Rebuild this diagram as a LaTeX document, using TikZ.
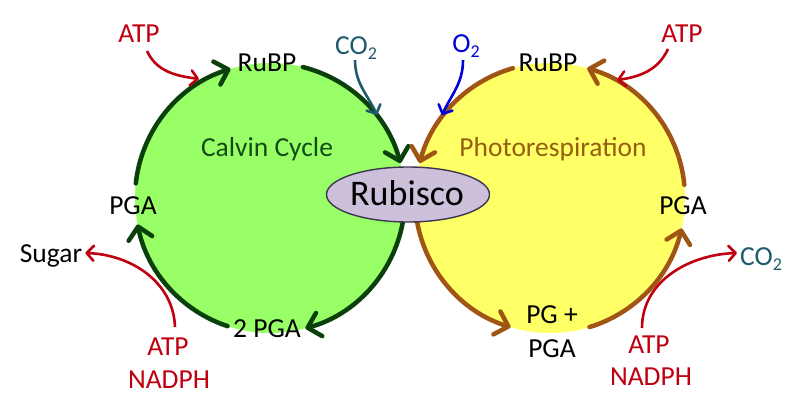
\documentclass[tikz,border=0pt]{standalone}
\usepackage{fontspec}
\setmainfont{Carlito}
\usetikzlibrary{arrows.meta,calc,shapes.geometric}
\definecolor{gfill}{RGB}{153,255,102}
\definecolor{yfill}{RGB}{255,255,102}
\definecolor{gline}{RGB}{10,64,10}
\definecolor{gtext}{RGB}{20,75,20}
\definecolor{bline}{RGB}{160,85,20}
\definecolor{btext}{RGB}{150,95,15}
\definecolor{rbfill}{RGB}{204,192,218}
\definecolor{rbline}{RGB}{60,55,80}
\definecolor{rred}{RGB}{192,0,16}
\definecolor{cteal}{RGB}{31,90,110}
\definecolor{oblue}{RGB}{0,0,220}
\newcommand{\subtwo}{\raisebox{-5pt}{\fontsize{18}{18}\selectfont 2}}
\begin{document}
\begin{tikzpicture}[x=1pt,y=1pt,
  lbl/.style={inner sep=0pt, anchor=base, font=\fontsize{27.5}{32}\selectfont},
  garc/.style={draw=gline, line width=4.5pt, line cap=round, -{Straight Barb[length=12pt,width=24pt,round]}},
  barc/.style={draw=bline, line width=4.5pt, line cap=round, -{Straight Barb[length=12pt,width=24pt,round]}},
  rarr/.style={draw=rred, line width=2.6pt, -{Straight Barb[length=7pt,width=15pt,round]}},
  tarr/.style={draw=cteal, line width=2.6pt, -{Straight Barb[length=7pt,width=15pt,round]}},
  oarr/.style={draw=oblue, line width=2.6pt, -{Straight Barb[length=7pt,width=15pt,round]}}
]
\useasboundingbox (0,0) rectangle (800,-417);
\fill[white] (0,0) rectangle (800,-417);
\coordinate (gc) at (270,-198);
\coordinate (yc) at (550,-198);
\fill[gfill] (gc) circle[radius=135];
\fill[yfill] (yc) circle[radius=135];

% Calvin cycle arcs
\draw[garc] ($(gc)+(173.8:135)$) arc[start angle=173.8,end angle=107,radius=135];
\draw[garc] ($(gc)+(75.9:135)$) arc[start angle=75.9,end angle=15,radius=135];
\draw[garc] ($(gc)+(-10.3:135)$) arc[start angle=-10.3,end angle=-74.8,radius=135];
\draw[garc] ($(gc)+(-108.3:135)$) arc[start angle=-108.3,end angle=-168.7,radius=135];

% Photorespiration arcs
\draw[barc] ($(yc)+(106:135)$) arc[start angle=106,end angle=165,radius=135];
\draw[barc] ($(yc)+(190:135)$) arc[start angle=190,end angle=253,radius=135];
\draw[barc] ($(yc)+(287:135)$) arc[start angle=287,end angle=347,radius=135];
\draw[barc] ($(yc)+(5.6:135)$) arc[start angle=5.6,end angle=74,radius=135];

% Rubisco
\node[ellipse, draw=rbline, fill=rbfill, line width=1.4pt, inner sep=0pt,
      minimum width=163pt, minimum height=55pt] (rub) at (408,-194.5) {};
\node[lbl, font=\fontsize{36}{40}\selectfont] (rubt) at (407,-205) {Rubisco};

% labels
\node[lbl] (rubpG) at (267,-72) {RuBP};
\node[lbl] (rubpY) at (548,-72) {RuBP};
\node[lbl, text=gtext] (calvin) at (267,-156) {Calvin Cycle};
\node[lbl, text=btext] (photo) at (553,-157) {Photorespiration};
\node[lbl] (pgaL) at (133,-214) {PGA};
\node[lbl] (pgaR) at (683,-214) {PGA};
\node[lbl] (pga2) at (267,-337) {2 PGA};
\node[lbl] (pgplus) at (552,-323) {PG +};
\node[lbl] (pgaB) at (552,-357) {PGA};
\node[lbl] (sugar) at (51,-262) {Sugar};
\node[lbl, text=rred] (atpTL) at (139,-43) {ATP};
\node[lbl, text=rred] (atpTR) at (682,-43) {ATP};
\node[lbl, text=rred] (atpBL) at (168,-355) {ATP};
\node[lbl, text=rred] (nadphBL) at (169,-388) {NADPH};
\node[lbl, text=rred] (atpBR) at (649,-353) {ATP};
\node[lbl, text=rred] (nadphBR) at (651,-385) {NADPH};
\node[lbl, text=cteal] (co2T) at (356,-55) {CO\subtwo};
\node[lbl, text=cteal] (co2R) at (761,-265) {CO\subtwo};
\node[lbl, text=oblue] (o2) at (466,-53) {O\subtwo};

% inputs / outputs
\coordinate (tATL) at (199,-79);
\coordinate (tATR) at (617,-80);
\coordinate (tCO2) at (377,-115);
\coordinate (tO2) at (442,-115);
\draw[rarr] ([xshift=8pt,yshift=-8pt]atpTL.base) to[out=-65,in=172] (tATL);
\draw[rarr] ([xshift=-14pt,yshift=-6pt]atpTR.base) to[out=-115,in=8] (tATR);
\draw[tarr] ([xshift=-1pt,yshift=-5pt]co2T.base) to[out=-90,in=115] (tCO2);
\draw[oarr] ([xshift=-3pt,yshift=-7pt]o2.base) to[out=-90,in=65] (tO2);
\draw[rarr] ([xshift=7pt,yshift=28pt]atpBL.base) to[out=92,in=-2] ([xshift=3pt,yshift=9pt]sugar.base east);
\draw[rarr] ([xshift=-7pt,yshift=25pt]atpBR.base) to[out=90,in=182] ([xshift=-3pt,yshift=12pt]co2R.base west);
\end{tikzpicture}
\end{document}
